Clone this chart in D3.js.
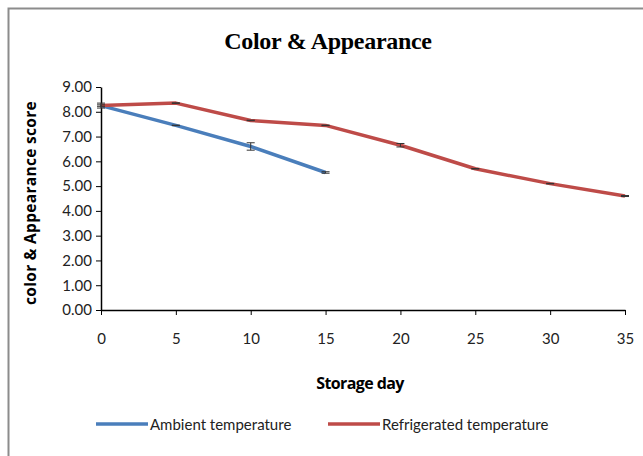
<!DOCTYPE html>
<html><head><meta charset="utf-8">
<script src="https://cdn.jsdelivr.net/npm/d3@7"></script>
<style>body{margin:0;background:#fff}</style>
</head><body>
<svg id="c" width="643" height="456"></svg>
<script>
const days = [0, 5, 10, 15, 20, 25, 30, 35];
const ambient = [8.25, 7.45, 6.6, 5.55];
const ambientErr = [0.1, 0.01, 0.15, 0.03];
const refrigerated = [8.25, 8.35, 7.65, 7.45, 6.65, 5.7, 5.1, 4.6];
const refrigeratedErr = [0.03, 0.01, 0.01, 0.01, 0.07, 0.01, 0.01, 0.02];
const yTicks = [0,1,2,3,4,5,6,7,8,9];
const seriesNames = ["Ambient temperature", "Refrigerated temperature"];
const colors = ["#4A7EBB", "#BE4B48"];

const svg = d3.select("#c");
svg.append("rect").attr("x",8.5).attr("y",8.5).attr("width",700).attr("height",500)
  .attr("fill","#fff").attr("stroke","#8c8c8c").attr("stroke-width",2);

const x = d3.scaleLinear().domain([0,35]).range([101,625]);
const y = d3.scaleLinear().domain([0,9]).range([310,87]);

svg.append("text").attr("x",328).attr("y",49).attr("text-anchor","middle")
  .attr("font-family","Liberation Serif").attr("font-weight","bold").attr("font-size",24)
  .attr("letter-spacing",-0.3)
  .text("Color & Appearance");

const yAxis = svg.append("g").attr("transform","translate(101,0)")
  .call(d3.axisLeft(y).tickValues(yTicks).tickFormat(d3.format(".2f")).tickSize(5).tickSizeOuter(0));
yAxis.select(".domain").attr("stroke","#000").attr("stroke-width",1.5);
yAxis.selectAll("text").attr("font-family","Lato").attr("font-size",15).attr("fill","#222").attr("x",-9);

const xAxis = svg.append("g").attr("transform","translate(0,310)")
  .call(d3.axisBottom(x).tickValues(days).tickSize(5).tickSizeOuter(0));
xAxis.select(".domain").attr("stroke","#000").attr("stroke-width",1.5);
xAxis.selectAll("text").attr("font-family","Lato").attr("font-size",15).attr("fill","#222").attr("y",23);

svg.append("text").attr("transform","translate(36,203) rotate(-90)").attr("text-anchor","middle")
  .attr("font-family","Open Sans").attr("font-weight","bold").attr("font-size",15.5)
  .attr("letter-spacing",0.3)
  .text("color & Appearance score");
svg.append("text").attr("x",360).attr("y",389).attr("text-anchor","middle")
  .attr("font-family","Open Sans").attr("font-weight","bold").attr("font-size",16).attr("letter-spacing",-0.6)
  .text("Storage day");

const line = d3.line().x(d=>x(d[0])).y(d=>y(d[1]));
const sets = [[ambient, ambientErr],[refrigerated, refrigeratedErr]];
sets.forEach(([vals, errs], i) => {
  const pts = vals.map((v,j)=>[days[j], v]);
  svg.append("path").datum(pts).attr("d",line).attr("fill","none")
    .attr("stroke",colors[i]).attr("stroke-width",3.5).attr("stroke-linejoin","round");
});
sets.forEach(([vals, errs]) => {
  const g = svg.append("g").attr("stroke","#333").attr("stroke-width",1);
  vals.forEach((v,j)=>{
    const cx = x(days[j]);
    g.append("line").attr("x1",cx).attr("x2",cx).attr("y1",y(v-errs[j])).attr("y2",y(v+errs[j]));
    g.append("line").attr("x1",cx-4).attr("x2",cx+4).attr("y1",y(v-errs[j])).attr("y2",y(v-errs[j]));
    g.append("line").attr("x1",cx-4).attr("x2",cx+4).attr("y1",y(v+errs[j])).attr("y2",y(v+errs[j]));
  });
});

const legX = [96, 328];
seriesNames.forEach((n,i)=>{
  svg.append("line").attr("x1",legX[i]).attr("x2",legX[i]+52).attr("y1",424).attr("y2",424)
    .attr("stroke",colors[i]).attr("stroke-width",3.5);
  svg.append("text").attr("x",legX[i]+54).attr("y",429.5)
    .attr("font-family","Lato").attr("font-size",15).attr("fill","#222").text(n);
});
</script>
</body></html>
